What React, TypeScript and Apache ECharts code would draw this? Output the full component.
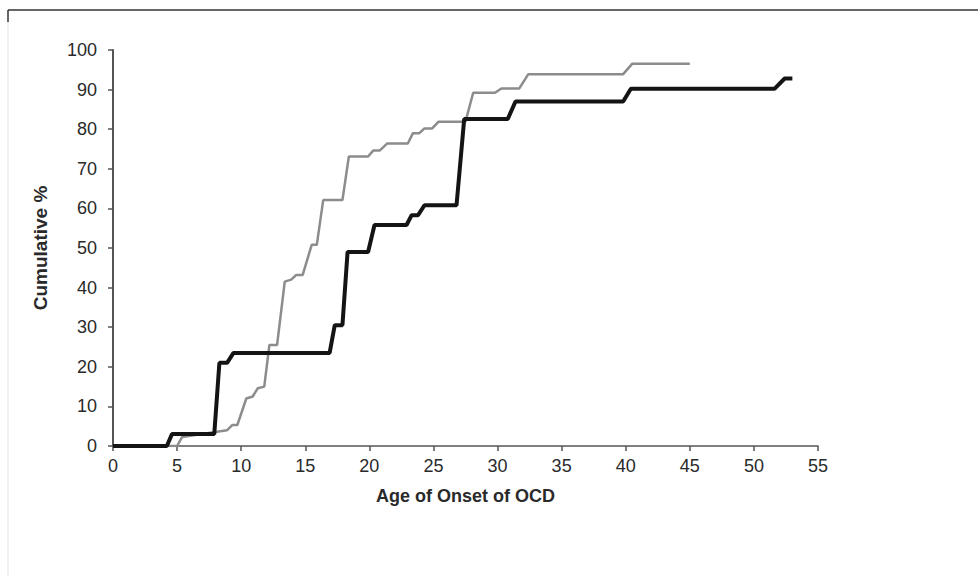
import React, { useEffect, useRef } from "react";
import * as echarts from "echarts";

const xTicks = [0, 5, 10, 15, 20, 25, 30, 35, 40, 45, 50, 55];
const yTicks = [0, 10, 20, 30, 40, 50, 60, 70, 80, 90, 100];

const blackPoints: [number, number][] = [
  [0, 0], [4.2, 0], [4.6, 3], [7.9, 3], [8.3, 21], [8.9, 21], [9.4, 23.5],
  [16.9, 23.5], [17.3, 30.5], [17.9, 30.5], [18.3, 49], [19.9, 49], [20.4, 55.8],
  [22.9, 55.8], [23.3, 58.3], [23.8, 58.3], [24.3, 60.8], [26.8, 60.8], [27.4, 82.6],
  [30.8, 82.6], [31.4, 87], [39.8, 87], [40.4, 90.2], [51.6, 90.2], [52.4, 92.8], [53, 92.8],
];

const grayPoints: [number, number][] = [
  [0, 0], [5.0, 0], [5.4, 2.3], [8.1, 3.6], [8.9, 4], [9.3, 5.3], [9.7, 5.3],
  [10.4, 12], [10.9, 12.5], [11.3, 14.6], [11.8, 15], [12.2, 25.5], [12.8, 25.5],
  [13.4, 41.5], [13.9, 42], [14.3, 43.2], [14.8, 43.2], [15.5, 50.8], [15.9, 50.8],
  [16.4, 62.1], [17.9, 62.1], [18.4, 73.1], [19.9, 73.1], [20.3, 74.6], [20.8, 74.6],
  [21.4, 76.4], [23.0, 76.4], [23.4, 79], [23.9, 79], [24.3, 80.2], [24.9, 80.2],
  [25.4, 81.9], [27.5, 81.9], [28.1, 89.2], [29.8, 89.2], [30.3, 90.3], [31.7, 90.3],
  [32.4, 93.9], [39.8, 93.9], [40.5, 96.5], [45, 96.5],
];

export default function App() {
  const ref = useRef<HTMLDivElement>(null);
  useEffect(() => {
    if (!ref.current) return;
    const chart = echarts.init(ref.current, null, { renderer: "svg" });
    const axisColor = "#555";
    chart.setOption({
      animation: false,
      backgroundColor: "#fff",
      textStyle: { fontFamily: "Liberation Sans, Arial, sans-serif" },
      grid: { left: 113, right: 160, top: 50, bottom: 132 },
      graphic: [
        { type: "line", shape: { x1: 8, y1: 10, x2: 978, y2: 10 }, style: { stroke: "#333", lineWidth: 1.5 } },
        { type: "line", shape: { x1: 8, y1: 10, x2: 8, y2: 22 }, style: { stroke: "#333", lineWidth: 1.5 } },
        { type: "line", shape: { x1: 8, y1: 22, x2: 8, y2: 576 }, style: { stroke: "#e6ecee", lineWidth: 1.5 } },
      ],
      xAxis: {
        type: "value",
        min: xTicks[0],
        max: xTicks[xTicks.length - 1],
        interval: 5,
        name: "Age of Onset of OCD",
        nameLocation: "middle",
        nameGap: 41,
        nameTextStyle: { fontSize: 18, fontWeight: "bold", color: "#2a2a2a" },
        axisLine: { show: true, lineStyle: { color: axisColor, width: 1.5 } },
        axisTick: { show: true, length: 5, lineStyle: { color: axisColor, width: 1.5 } },
        axisLabel: { fontSize: 18, color: "#2a2a2a", margin: 11 },
        splitLine: { show: false },
      },
      yAxis: {
        type: "value",
        min: yTicks[0],
        max: yTicks[yTicks.length - 1],
        interval: 10,
        name: "Cumulative %",
        nameLocation: "middle",
        nameGap: 63,
        nameTextStyle: { fontSize: 19, fontWeight: "bold", color: "#2a2a2a" },
        axisLine: { show: true, lineStyle: { color: axisColor, width: 2 } },
        axisTick: { show: true, length: 5, lineStyle: { color: axisColor, width: 1.5 } },
        axisLabel: { fontSize: 18, color: "#2a2a2a", margin: 16 },
        splitLine: { show: false },
      },
      series: [
        {
          type: "line",
          data: grayPoints,
          showSymbol: false,
          symbol: "none",
          lineStyle: { color: "#8c8c8c", width: 2.5 },
          z: 2,
        },
        {
          type: "line",
          data: blackPoints,
          showSymbol: false,
          symbol: "none",
          lineStyle: { color: "#141414", width: 4 },
          z: 3,
        },
      ],
    });
    return () => chart.dispose();
  }, []);
  return (
    <div
      ref={ref}
      style={{ position: "fixed", left: 0, top: 0, width: 978, height: 578, background: "#fff" }}
    />
  );
}
